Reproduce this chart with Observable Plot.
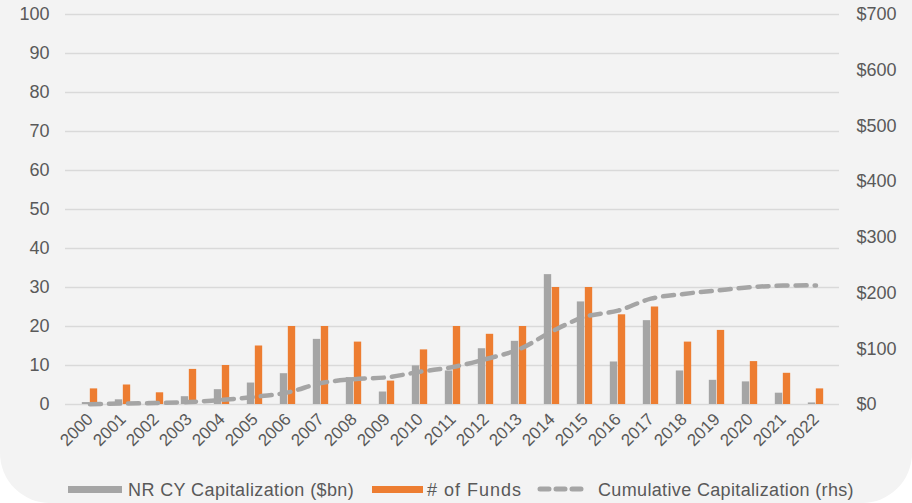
<!DOCTYPE html>
<html><head><meta charset="utf-8">
<script src="https://cdn.jsdelivr.net/npm/d3@7"></script>
<script src="https://cdn.jsdelivr.net/npm/@observablehq/plot@0.6"></script>
<style>
html,body{margin:0;padding:0;background:#fff;}
#wrap{position:relative;width:912px;height:503px;overflow:hidden;}
#bg{position:absolute;left:0;top:-60px;width:912px;height:563px;background:#f3f3f3;border-radius:50px;}
#chart{position:absolute;left:0;top:0;}
#legend{position:absolute;left:0;top:479px;width:912px;height:24px;font-family:"Liberation Sans",Arial,sans-serif;font-size:18px;color:#595959;}
.sw{position:absolute;top:7px;height:7px;}
.lt{position:absolute;top:1px;line-height:20px;white-space:nowrap;}
</style></head>
<body>
<div id="wrap">
  <div id="bg"></div>
  <div id="chart"></div>
  <div id="legend">
    <div class="sw" style="left:68px;width:54px;background:#a5a5a5"></div>
    <div class="lt" style="left:128px;letter-spacing:0.4px">NR CY Capitalization ($bn)</div>
    <div class="sw" style="left:372px;width:51px;background:#ed7d31"></div>
    <div class="lt" style="left:427px;letter-spacing:1px"># of Funds</div>
    <svg style="position:absolute;left:537px;top:5px" width="52" height="10"><line x1="3" x2="50" y1="5" y2="5" stroke="#a5a5a5" stroke-width="5" stroke-dasharray="9,7" stroke-linecap="round"/></svg>
    <div class="lt" style="left:598px;letter-spacing:0.35px">Cumulative Capitalization (rhs)</div>
  </div>
</div>
<script>
const years = ["2000","2001","2002","2003","2004","2005","2006","2007","2008","2009","2010","2011","2012","2013","2014","2015","2016","2017","2018","2019","2020","2021","2022"];
const capitalization = [0.5,1.2,0.8,2.0,3.8,5.5,7.9,16.7,6.9,3.2,9.9,8.6,14.3,16.2,33.3,26.3,10.9,21.5,8.6,6.2,5.8,2.9,0.4];
const funds = [4,5,3,9,10,15,20,20,16,6,14,20,18,20,30,30,23,25,16,19,11,8,4];
const cumulative = [0.5,1.7,2.5,4.5,8.3,13.8,21.8,38.5,45.5,48.8,58.8,67.3,81.6,99,131.2,157.5,168.5,190,198.5,204.7,210.5,213.4,213.8];
const leftTicks = [0,10,20,30,40,50,60,70,80,90,100];
const rightTickValues = [0,100,200,300,400,500,600,700];
const rightMax = 700;

const rows = years.map((y,i)=>({year:y, cap:capitalization[i], funds:funds[i], cum:cumulative[i]}));
const W = 912, ML = 65, MR = 73;
const bw = (W-ML-MR)/years.length;
const barW = 8;
const toLeft = v => v*100/rightMax;

const chart = Plot.plot({
  width:W, height:475, marginLeft:ML, marginRight:MR, marginTop:14, marginBottom:71,
  style:{background:"transparent", fontFamily:"'Liberation Sans', Arial, sans-serif", fontSize:"18px", color:"#595959"},
  x:{type:"band", domain:years, padding:0, label:null},
  y:{domain:[0,100], label:null},
  marks:[
    Plot.gridY(leftTicks,{stroke:"#d9d9d9", strokeOpacity:1, strokeWidth:1.3}),
    Plot.barY(rows,{x:"year", y:"cap", fill:"#a5a5a5", insetLeft: bw/2-barW, insetRight: bw/2}),
    Plot.barY(rows,{x:"year", y:"funds", fill:"#ed7d31", insetLeft: bw/2, insetRight: bw/2-barW}),
    Plot.line(rows,{x:"year", y: d=>toLeft(d.cum), stroke:"#a5a5a5", strokeWidth:4.5, strokeDasharray:"11,8", strokeLinecap:"round", curve:"catmull-rom"}),
    Plot.axisY(leftTicks,{anchor:"left", tickSize:0, tickPadding:16, fontSize:18}),
    Plot.axisY(rightTickValues.map(toLeft),{anchor:"right", tickSize:0, tickPadding:17, fontSize:18, tickFormat: d=>"$"+Math.round(d*rightMax/100)}),
    Plot.axisX({tickRotate:-45, tickSize:0, tickPadding:12, fontSize:17})
  ]
});
document.getElementById("chart").appendChild(chart);
</script>
</body></html>
